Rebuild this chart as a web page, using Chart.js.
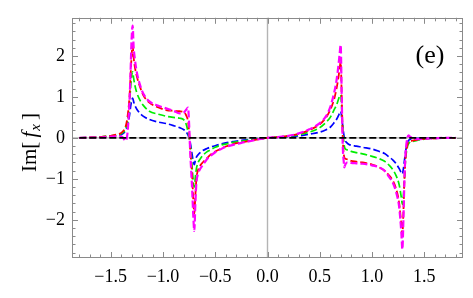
<!DOCTYPE html>
<html>
<head>
<meta charset="utf-8">
<script src="https://cdn.jsdelivr.net/npm/chart.js@4"></script>
<style>
html,body{margin:0;padding:0;background:#fff;}
#wrap{width:473px;height:298px;}
</style>
</head>
<body>
<div id="wrap"><canvas id="chart" width="473" height="298"></canvas></div>
<script>
// sample positions (shared by the four coloured curves)
const xs = [
-1.8, -1.7, -1.6, -1.5, -1.45, -1.4, -1.38, -1.36, -1.34, -1.32,
-1.31, -1.30, -1.29, -1.28, -1.27, -1.25, -1.22, -1.19, -1.13, -1.05,
-0.97, -0.9, -0.84, -0.8, -0.78, -0.76, -0.75, -0.74, -0.73, -0.72,
-0.71, -0.70, -0.69, -0.68, -0.66, -0.64, -0.62, -0.58, -0.55, -0.5,
-0.45, -0.4, -0.33, -0.25, -0.17, -0.1, 0,
0.1, 0.2, 0.3, 0.4, 0.5, 0.56, 0.6, 0.64, 0.66, 0.68,
0.69, 0.70, 0.71, 0.72, 0.73, 0.735, 0.74, 0.76, 0.78, 0.8,
0.85, 0.91, 1.0, 1.07, 1.12, 1.165, 1.2, 1.23, 1.26, 1.28,
1.29, 1.30, 1.31, 1.32, 1.34, 1.35, 1.36, 1.38, 1.4, 1.45,
1.5, 1.6, 1.7, 1.8
];

const blueY = [
0, 0.01, 0.02, 0.04, 0.05, 0.08, 0.11, 0.17, 0.3, 0.55,
0.75, 0.9, 0.97, 0.88, 0.8, 0.7, 0.6, 0.53, 0.45, 0.39,
0.35, 0.3, 0.25, 0.2, 0.15, 0.07, 0.0, -0.1, -0.25, -0.42,
-0.58, -0.65, -0.55, -0.47, -0.4, -0.35, -0.31, -0.26, -0.23, -0.19,
-0.15, -0.12, -0.09, -0.06, -0.04, -0.02, 0,
0.01, 0.03, 0.05, 0.09, 0.14, 0.2, 0.26, 0.38, 0.45, 0.55,
0.61, 0.65, 0.5, 0.28, 0.08, 0.0, -0.05, -0.12, -0.16, -0.18,
-0.2, -0.23, -0.27, -0.33, -0.38, -0.47, -0.54, -0.63, -0.75, -0.85,
-0.88, -0.75, -0.55, -0.35, -0.1, -0.06, -0.04, -0.03, -0.02, -0.01,
-0.01, 0, 0, 0
];

const greenY = [
0, 0.01, 0.02, 0.05, 0.07, 0.1, 0.14, 0.2, 0.4, 0.85,
1.2, 1.5, 1.61, 1.45, 1.3, 1.1, 0.92, 0.8, 0.65, 0.58,
0.53, 0.5, 0.48, 0.44, 0.35, 0.15, 0.02, -0.15, -0.4, -0.75,
-1.05, -1.2, -0.95, -0.75, -0.58, -0.5, -0.43, -0.34, -0.3, -0.23,
-0.18, -0.15, -0.11, -0.08, -0.05, -0.03, 0,
0.02, 0.04, 0.08, 0.14, 0.25, 0.38, 0.5, 0.7, 0.8, 0.95,
1.02, 1.05, 0.7, 0.2, -0.1, -0.2, -0.25, -0.29, -0.31, -0.33,
-0.36, -0.39, -0.45, -0.51, -0.57, -0.67, -0.78, -0.92, -1.15, -1.45,
-1.62, -1.4, -1.0, -0.55, -0.2, -0.14, -0.11, -0.09, -0.08, -0.05,
-0.03, -0.01, 0, 0
];

const redY = [
0, 0.01, 0.02, 0.05, 0.08, 0.12, 0.17, 0.25, 0.5, 1.0,
1.5, 2.0, 2.25, 1.95, 1.75, 1.5, 1.25, 1.05, 0.86, 0.75,
0.68, 0.66, 0.65, 0.63, 0.56, 0.4, 0.15, -0.25, -0.6, -0.95,
-1.5, -1.85, -1.4, -1.0, -0.75, -0.66, -0.6, -0.5, -0.42, -0.33,
-0.27, -0.21, -0.15, -0.11, -0.07, -0.04, 0,
0.02, 0.05, 0.1, 0.19, 0.33, 0.5, 0.68, 0.97, 1.2, 1.5,
1.7, 1.85, 1.0, 0.0, -0.4, -0.48, -0.5, -0.52, -0.54, -0.56,
-0.58, -0.6, -0.65, -0.72, -0.8, -0.92, -1.05, -1.24, -1.6, -2.1,
-2.36, -1.8, -1.0, -0.5, -0.15, -0.1, -0.08, -0.07, -0.06, -0.04,
-0.02, -0.01, 0, 0
];

const magentaY = [
0, 0.01, 0.01, 0.03, 0.04, 0.04, 0.0, -0.07, 0.1, 0.9,
1.6, 2.4, 2.74, 2.2, 1.95, 1.6, 1.3, 1.09, 0.89, 0.79,
0.72, 0.66, 0.6, 0.62, 0.68, 0.74, 0.35, -0.3, -0.8, -1.3,
-1.9, -2.27, -1.6, -1.1, -0.85, -0.74, -0.67, -0.52, -0.45, -0.35,
-0.28, -0.22, -0.17, -0.12, -0.08, -0.04, 0,
0.02, 0.05, 0.11, 0.21, 0.36, 0.53, 0.75, 1.13, 1.4, 1.8,
2.05, 2.27, 1.0, -0.2, -0.6, -0.72, -0.68, -0.6, -0.6, -0.61,
-0.62, -0.63, -0.67, -0.72, -0.8, -0.96, -1.1, -1.32, -1.7, -2.3,
-2.72, -2.0, -1.0, -0.4, 0.02, 0.06, 0.04, 0.0, -0.02, -0.03,
-0.02, -0.01, 0, 0
];

// black reference line
const zeroX = [-1.8, 1.8];
const zeroY = [0, 0];

const xTicks = [-1.5, -1.0, -0.5, 0, 0.5, 1.0, 1.5];
const yTicks = [-2, -1, 0, 1, 2];

function pts(xv, yv){
  return xv.map(function(x, i){ return {x: x, y: yv[i]}; });
}
function minus(s){ return s.replace('-', '\u2212'); }

const SERIF = '"Liberation Serif", "Times New Roman", serif';
const DASH = [7, 3];

function line(label, xv, yv, color, w){
  return {
    label: label, data: pts(xv, yv),
    borderColor: color, borderWidth: w, borderDash: DASH,
    pointRadius: 0, fill: false, cubicInterpolationMode: 'monotone'
  };
}

// frame, inward ticks, axes at the origin, and the free texts
const decor = {
  id: 'decor',
  beforeDatasetsDraw(chart){
    const ctx = chart.ctx, a = chart.chartArea;
    const x = chart.scales.x, y = chart.scales.y;
    ctx.save();
    ctx.strokeStyle = '#b4b4b4';
    ctx.lineWidth = 1.4;
    let px = x.getPixelForValue(0);
    ctx.beginPath(); ctx.moveTo(px, a.top); ctx.lineTo(px, a.bottom); ctx.stroke();
    let py = y.getPixelForValue(0);
    ctx.beginPath(); ctx.moveTo(a.left, py); ctx.lineTo(a.right, py); ctx.stroke();
    ctx.restore();
  },
  afterDatasetsDraw(chart){
    const ctx = chart.ctx, a = chart.chartArea;
    const x = chart.scales.x, y = chart.scales.y;
    ctx.save();
    ctx.strokeStyle = '#8a8a8a';
    ctx.lineWidth = 1;
    ctx.strokeRect(Math.round(a.left) + 0.5, Math.round(a.top) + 0.5,
      Math.round(a.right - a.left) - 1, Math.round(a.bottom - a.top) - 1);
    ctx.beginPath();
    for (let i = -18; i <= 18; i++){
      const px = Math.round(x.getPixelForValue(i / 10)) + 0.5;
      const len = (i % 5 === 0) ? 6 : 3.5;
      ctx.moveTo(px, a.bottom); ctx.lineTo(px, a.bottom - len);
      ctx.moveTo(px, a.top); ctx.lineTo(px, a.top + len);
    }
    for (let i = -14; i <= 14; i++){
      const py = Math.round(y.getPixelForValue(i / 5)) + 0.5;
      const len = (i % 5 === 0) ? 6 : 3.5;
      ctx.moveTo(a.left, py); ctx.lineTo(a.left + len, py);
      ctx.moveTo(a.right, py); ctx.lineTo(a.right - len, py);
    }
    ctx.stroke();
    ctx.restore();
  },
  afterDraw(chart){
    const ctx = chart.ctx;
    ctx.save();
    ctx.fillStyle = '#000';
    // panel tag
    ctx.font = '26px ' + SERIF;
    ctx.textAlign = 'center';
    ctx.textBaseline = 'middle';
    ctx.fillText('(e)', 430, 56);
    // y title Im[f_x]
    ctx.translate(36, 143);
    ctx.rotate(-Math.PI / 2);
    ctx.textAlign = 'left';
    ctx.textBaseline = 'alphabetic';
    const parts = [
      {t: 'Im[\u2009', f: '21px ' + SERIF, dy: 0},
      {t: 'f', f: 'italic 21px ' + SERIF, dy: 0},
      {t: 'x', f: 'italic 15px ' + SERIF, dy: 4},
      {t: '\u2009]', f: '21px ' + SERIF, dy: 0}
    ];
    let total = 0;
    parts.forEach(function(p){ ctx.font = p.f; p.w = ctx.measureText(p.t).width; total += p.w; });
    let cx = -total / 2;
    parts.forEach(function(p){ ctx.font = p.f; ctx.fillText(p.t, cx, p.dy); cx += p.w + (p.t === 'f' ? 1 : 0); });
    ctx.restore();
  }
};

function draw(){
  new Chart(document.getElementById('chart'), {
    type: 'line',
    data: {
      datasets: [
        line('zero', zeroX, zeroY, '#000000', 1.6),
        line('magenta', xs, magentaY, '#ff00ff', 2.2),
        line('red', xs, redY, '#ff0000', 1.8),
        line('green', xs, greenY, '#00ee00', 1.7),
        line('blue', xs, blueY, '#0000ff', 1.7)
      ]
    },
    options: {
      responsive: false,
      animation: false,
      layout: {padding: {left: 0, right: 10, top: 16, bottom: 0}},
      plugins: {legend: {display: false}, tooltip: {enabled: false}},
      scales: {
        x: {
          type: 'linear', min: -1.87, max: 1.87,
          grid: {display: false, drawTicks: false},
          border: {display: false},
          afterBuildTicks: function(s){ s.ticks = xTicks.map(function(v){ return {value: v}; }); },
          afterFit: function(s){ s.height = 40; },
          ticks: {
            color: '#000', padding: 8, maxRotation: 0, autoSkip: false,
            font: {family: SERIF, size: 18},
            callback: function(v){ return minus(Number(v).toFixed(1)); }
          }
        },
        y: {
          type: 'linear', min: -2.93, max: 2.93,
          grid: {display: false, drawTicks: false},
          border: {display: false},
          afterBuildTicks: function(s){ s.ticks = yTicks.map(function(v){ return {value: v}; }); },
          afterFit: function(s){ s.width = 72; },
          ticks: {
            color: '#000', padding: 7, autoSkip: false,
            font: {family: SERIF, size: 18},
            callback: function(v){ return minus(String(v)); }
          }
        }
      }
    },
    plugins: [decor]
  });
}

Promise.all([
  document.fonts.load('18px "Liberation Serif"'),
  document.fonts.load('italic 21px "Liberation Serif"')
]).then(draw, draw);
</script>
</body>
</html>
